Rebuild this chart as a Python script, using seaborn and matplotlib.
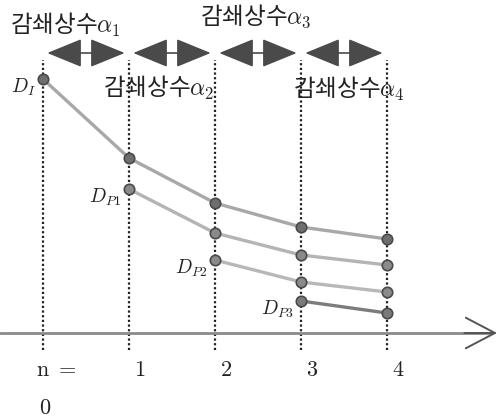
import matplotlib
matplotlib.use("Agg")
import matplotlib.pyplot as plt
import numpy as np
import pandas as pd
import seaborn as sns

# step index n and decayed values (height above the n axis)
steps = [0, 1, 2, 3, 4]
step_labels = ["1", "2", "3", "4"]
series_names = ["D_I", "D_P1", "D_P2", "D_P3"]
series_start = [0, 1, 2, 3]
values_i = [254, 175, 130, 106, 94]
values_p1 = [144, 100, 78, 68]
values_p2 = [73, 51, 41]
values_p3 = [32, 20]
decay_labels = ["감쇄상수$\\alpha_1$", "감쇄상수$\\alpha_2$",
                "감쇄상수$\\alpha_3$", "감쇄상수$\\alpha_4$"]
point_labels = ["$D_I$", "$D_{P1}$", "$D_{P2}$", "$D_{P3}$"]

rows = []
for name, start, vals in zip(series_names, series_start,
                             [values_i, values_p1, values_p2, values_p3]):
    for k, v in enumerate(vals):
        rows.append({"series": name, "n": steps[start + k], "value": v})
df = pd.DataFrame(rows)

sns.set_theme(style="white")
plt.rcParams["font.family"] = ["Noto Sans CJK KR", "DejaVu Sans"]
plt.rcParams["mathtext.fontset"] = "cm"

fig = plt.figure(figsize=(4.98, 4.2), dpi=100)
ax = fig.add_axes([0, 0, 1, 1])

# vertical dotted guides
ax.vlines(steps, -17, 273, colors="#222222", linestyles=(0, (1, 1.1)), lw=1.6, zorder=1)

# n axis with open arrow head
ax.plot([-0.5, 5.2], [0, 0], color="#8a8a8a", lw=2, zorder=1)
ax.annotate("", xy=(5.28, 0), xytext=(4.9, 0),
            arrowprops=dict(arrowstyle="->,head_length=1.05,head_width=0.55",
                            color="#555555", lw=1.4, mutation_scale=20,
                            shrinkA=0, shrinkB=0))

line_colors = {"D_I": "#a8a8a8", "D_P1": "#b4b4b4", "D_P2": "#b8b8b8", "D_P3": "#7c7c7c"}
marker_colors = {"D_I": "#6e6e6e", "D_P1": "#8a8a8a", "D_P2": "#8a8a8a", "D_P3": "#7a7a7a"}
for name in series_names:
    sub = df[df["series"] == name]
    sns.lineplot(data=sub, x="n", y="value", ax=ax, color=line_colors[name],
                 lw=2.4, marker="o", markersize=7.5,
                 markerfacecolor=marker_colors[name], markeredgecolor="#4a4a4a",
                 markeredgewidth=1.2, legend=False, zorder=3)
ax.set_xlim(-0.5, 5.291)
ax.set_ylim(-87, 333)
ax.axis("off")

# double arrows between the steps
for i in range(4):
    ax.annotate("", xy=(steps[i] + 0.95, 280), xytext=(steps[i] + 0.05, 280),
                arrowprops=dict(arrowstyle="<|-|>,head_length=1.1,head_width=0.45",
                                color="#4a4a4a", lw=1.2, mutation_scale=20,
                                shrinkA=0, shrinkB=0))

# decay constant labels
label_pos = [(-0.384, 308), (0.70, 245), (1.826, 317), (2.907, 244)]
for txt, (x, y) in zip(decay_labels, label_pos):
    ax.text(x, y, txt, fontsize=17, color="#222222", ha="left", va="center")

# point labels
first_vals = [values_i[0], values_p1[0], values_p2[0], values_p3[0]]
for txt, start, v in zip(point_labels, series_start, first_vals):
    ax.text(steps[start] - 0.08, v - 8, txt, fontsize=14, color="#222222",
            ha="right", va="center")

# step numbers
ax.text(-0.08, -36, "$\\mathrm{n}\\ =$", fontsize=16, color="#222222",
        ha="left", va="center")
ax.text(0.02, -75, "$0$", fontsize=16, color="#222222", ha="center", va="center")
for s, lab in zip(steps[1:], step_labels):
    ax.text(s + 0.13, -36, f"${lab}$", fontsize=16, color="#222222",
            ha="center", va="center")

fig.savefig("out.png", dpi=100)
